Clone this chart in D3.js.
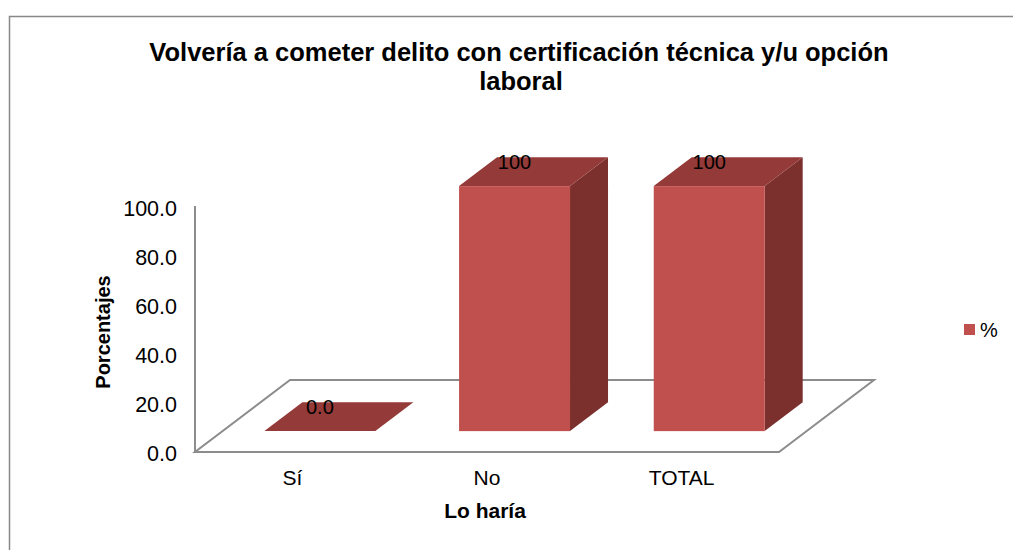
<!DOCTYPE html>
<html>
<head>
<meta charset="utf-8">
<script src="https://cdn.jsdelivr.net/npm/d3@7"></script>
<style>
  body { margin: 0; background: #fff; }
  text { font-family: "Liberation Sans", Arial, sans-serif; fill: #000; }
</style>
</head>
<body>
<svg id="chart"></svg>
<script>
const categories = ['Sí', 'No', 'TOTAL'];
const values = [0, 100, 100];
const valueLabels = ['0.0', '100', '100'];
const yTicks = [0, 20, 40, 60, 80, 100];
const seriesName = '%';

const WIDTH = 1013,
    HEIGHT = 550;

// floor geometry: front edge at y0, depth vector (dx, dy)
const left = 195, right = 779, y0 = 452;
const depthX = 95, depthY = -72;
const frontF = 0.29, backF = 0.69;

const colors = { front: '#c0504d', top: '#943a38', side: '#7b302e', grid: '#8c8c8c' };

const svg = d3.select('svg#chart')
    .attr('width', WIDTH)
    .attr('height', HEIGHT);

// chart border
svg.append('rect')
    .attr('x', 9.5).attr('y', 16.5)
    .attr('width', WIDTH + 20).attr('height', HEIGHT + 20)
    .attr('fill', 'none')
    .attr('stroke', '#888')
    .attr('stroke-width', 1.5);

// title
const title = svg.append('text')
    .attr('text-anchor', 'middle')
    .attr('font-weight', 'bold')
    .attr('font-size', 25.5);
title.append('tspan').attr('x', 519).attr('y', 61)
    .text('Volvería a cometer delito con certificación técnica y/u opción');
title.append('tspan').attr('x', 521).attr('y', 90)
    .text('laboral');

const x = d3.scaleBand()
    .domain(categories)
    .range([left, right])
    .paddingInner(0)
    .paddingOuter(0);

const y = d3.scaleLinear()
    .domain([0, 100])
    .range([y0, 207]);

// floor
const floor = [
    [left, y0], [right, y0],
    [right + depthX, y0 + depthY], [left + depthX, y0 + depthY]
];
svg.append('path')
    .attr('d', d3.line()(floor) + 'Z')
    .attr('fill', '#fff')
    .attr('stroke', colors.grid)
    .attr('stroke-width', 2);

// vertical axis line
svg.append('line')
    .attr('x1', left).attr('x2', left)
    .attr('y1', y(100) - 1).attr('y2', y0)
    .attr('stroke', colors.grid)
    .attr('stroke-width', 2);

// y axis labels
const yAxis = svg.append('g')
    .attr('transform', `translate(${left},2)`)
    .call(d3.axisLeft(y).tickValues(yTicks).tickFormat(d3.format('.1f')).tickSize(0).tickPadding(18));
yAxis.select('.domain').remove();
yAxis.selectAll('text')
    .attr('font-size', 21.5)
    .attr('font-family', '"Liberation Sans", Arial, sans-serif')
    .attr('fill', '#000');

// x axis labels
const xAxis = svg.append('g')
    .attr('transform', `translate(0,${y0})`)
    .call(d3.axisBottom(x).tickSize(0).tickPadding(18));
xAxis.select('.domain').remove();
xAxis.selectAll('text')
    .attr('font-size', 21)
    .attr('font-family', '"Liberation Sans", Arial, sans-serif')
    .attr('fill', '#000');

// bars
const barW = x.bandwidth() * 0.57;
const fx = depthX * frontF, fy = depthY * frontF;
const bx = depthX * (backF - frontF), by = depthY * (backF - frontF);
const unit = y(0) - y(100);

const bars = categories.map((c, i) => {
    const x0 = x(c) + x.bandwidth() / 2 + fx - barW / 2;
    const yb = y0 + fy;
    const yt = yb - unit * values[i] / 100;
    return { c, v: values[i], label: valueLabels[i], x0, x1: x0 + barW, yb, yt };
});

const bar = svg.append('g')
    .selectAll('g')
    .data(bars)
    .enter().append('g');

bar.append('path')
    .attr('d', d => d3.line()([[d.x1, d.yb], [d.x1 + bx, d.yb + by], [d.x1 + bx, d.yt + by], [d.x1, d.yt]]) + 'Z')
    .attr('fill', colors.side);

bar.append('path')
    .attr('d', d => d3.line()([[d.x0, d.yt], [d.x1, d.yt], [d.x1 + bx, d.yt + by], [d.x0 + bx, d.yt + by]]) + 'Z')
    .attr('fill', colors.top);

bar.append('rect')
    .attr('x', d => d.x0)
    .attr('y', d => d.yt)
    .attr('width', barW)
    .attr('height', d => d.yb - d.yt)
    .attr('fill', colors.front);

bar.append('text')
    .attr('x', d => (d.x0 + d.x1) / 2)
    .attr('y', d => d.yt - 17)
    .attr('text-anchor', 'middle')
    .attr('font-size', 20)
    .text(d => d.label);

// axis titles
svg.append('text')
    .attr('transform', 'translate(110,332) rotate(-90)')
    .attr('text-anchor', 'middle')
    .attr('font-weight', 'bold')
    .attr('font-size', 20)
    .text('Porcentajes');

svg.append('text')
    .attr('x', 485)
    .attr('y', 518)
    .attr('text-anchor', 'middle')
    .attr('font-weight', 'bold')
    .attr('font-size', 21)
    .text('Lo haría');

// legend
const legend = svg.append('g');
legend.append('rect')
    .attr('x', 964).attr('y', 324)
    .attr('width', 11).attr('height', 11)
    .attr('fill', colors.front);
legend.append('text')
    .attr('x', 980).attr('y', 337)
    .attr('font-size', 20)
    .text(seriesName);
</script>
</body>
</html>
